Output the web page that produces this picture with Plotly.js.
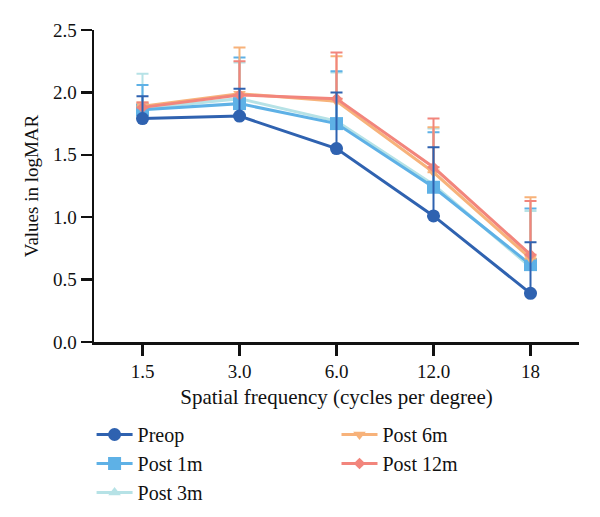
<!DOCTYPE html>
<html>
<head>
<meta charset="utf-8">
<script src="https://cdn.plot.ly/plotly-3.0.1.min.js"></script>
<style>html,body{margin:0;padding:0;background:#fff;}#chart{width:600px;height:517px;}</style>
</head>
<body>
<div id="chart"></div>
<script>
const freqLabels = ["1.5", "3.0", "6.0", "12.0", "18"];

const preop     = [1.79, 1.81, 1.55, 1.01, 0.39];
const preopErr  = [0.18, 0.22, 0.45, 0.55, 0.41];
const post1m    = [1.86, 1.91, 1.75, 1.24, 0.62];
const post1mErr = [0.20, 0.37, 0.42, 0.44, 0.45];
const post3m    = [1.87, 1.95, 1.77, 1.26, 0.60];
const post3mErr = [0.28, 0.29, 0.39, 0.45, 0.45];
const post6m    = [1.89, 1.99, 1.93, 1.36, 0.67];
const post6mErr = [0.03, 0.37, 0.36, 0.36, 0.49];
const post12m   = [1.88, 1.98, 1.95, 1.40, 0.70];
const post12mErr= [0.04, 0.27, 0.37, 0.39, 0.43];

const seriesNames = ["Preop", "Post 1m", "Post 3m", "Post 6m", "Post 12m"];

function mk(name, y, err, color, symbol, size, legend, rank) {
  return {
    type: 'scatter', mode: 'lines+markers', name: name,
    x: freqLabels, y: y,
    line: {color: color, width: 3},
    marker: {color: color, symbol: symbol, size: size},
    error_y: {type: 'data', array: err, symmetric: false, arrayminus: err.map(() => 0),
              color: color, thickness: 2, width: 6},
    legend: legend, legendrank: rank
  };
}

const traces = [
  mk(seriesNames[2], post3m, post3mErr, '#b6e2e6', 'triangle-up', 11, 'legend', 3),
  mk(seriesNames[1], post1m, post1mErr, '#5eb1e6', 'square', 13, 'legend', 2),
  mk(seriesNames[3], post6m, post6mErr, '#f7b27a', 'triangle-down', 11, 'legend2', 4),
  mk(seriesNames[4], post12m, post12mErr, '#f2857c', 'diamond', 9, 'legend2', 5),
  mk(seriesNames[0], preop, preopErr, '#2f62b0', 'circle', 13, 'legend', 1)
];

const fontFam = '"Liberation Serif", "DejaVu Serif", serif';

const layout = {
  width: 600, height: 517,
  margin: {l: 94, r: 21, t: 30, b: 175, autoexpand: false},
  paper_bgcolor: '#ffffff', plot_bgcolor: '#ffffff',
  font: {family: fontFam, size: 19, color: '#111'},
  showlegend: true,
  xaxis: {
    type: 'category', range: [-0.5, 4.5],
    showline: true, linecolor: '#111', linewidth: 2.5,
    ticks: 'outside', ticklen: 11, tickwidth: 2.5, tickcolor: '#111',
    showgrid: false, zeroline: false,
    tickfont: {family: fontFam, size: 19, color: '#111'},
    title: {text: 'Spatial frequency (cycles per degree)', font: {family: fontFam, size: 21, color: '#111'}, standoff: 8}
  },
  yaxis: {
    range: [0, 2.5], tickvals: [0, 0.5, 1, 1.5, 2, 2.5], ticktext: ['0.0', '0.5', '1.0', '1.5', '2.0', '2.5'],
    showline: true, linecolor: '#111', linewidth: 2.5,
    ticks: 'outside', ticklen: 11, tickwidth: 2.5, tickcolor: '#111',
    showgrid: false, zeroline: false,
    tickfont: {family: fontFam, size: 19, color: '#111'},
    title: {text: 'Values in logMAR', font: {family: fontFam, size: 19, color: '#111'}, standoff: 10}
  },
  legend: {
    x: -0.005, xanchor: 'left', y: -0.234, yanchor: 'top', orientation: 'v',
    font: {family: fontFam, size: 20, color: '#111'}, bgcolor: 'rgba(0,0,0,0)', itemwidth: 36
  },
  legend2: {
    x: 0.50, xanchor: 'left', y: -0.234, yanchor: 'top', orientation: 'v',
    font: {family: fontFam, size: 20, color: '#111'}, bgcolor: 'rgba(0,0,0,0)', itemwidth: 36
  }
};

Plotly.newPlot('chart', traces, layout, {displayModeBar: false, staticPlot: true});
</script>
</body>
</html>
